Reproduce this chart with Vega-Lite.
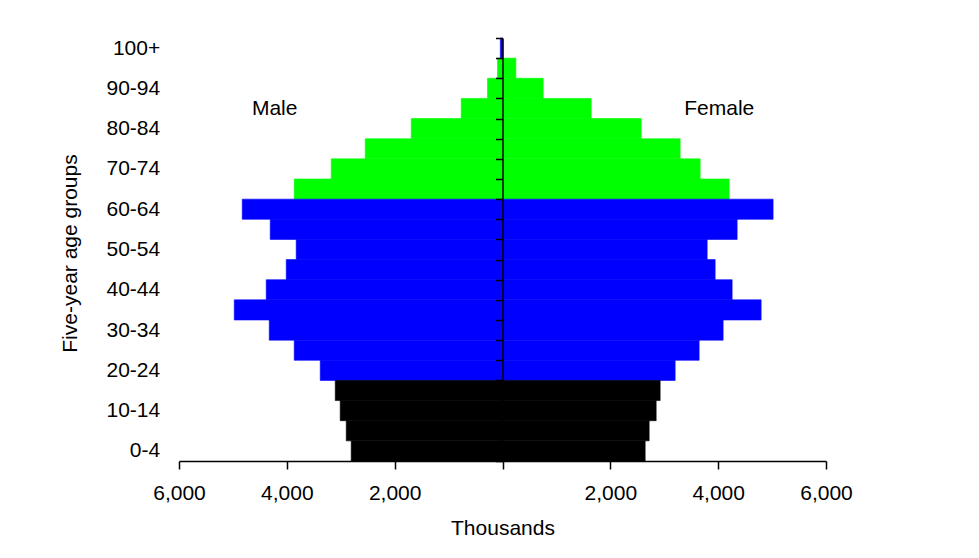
{
  "$schema": "https://vega.github.io/schema/vega-lite/v6.json",
  "width": 647,
  "height": 423,
  "autosize": {"type": "none"},
  "padding": {"left": 179, "top": 38, "right": 153, "bottom": 97},
  "background": "white",
  "config": {
    "view": {"stroke": null},
    "font": "Liberation Sans",
    "axis": {"grid": false, "labelFont": "Liberation Sans", "titleFont": "Liberation Sans", "labelColor": "black", "titleColor": "black", "labelFontSize": 21, "titleFontSize": 21, "titleFontWeight": "normal", "domainColor": "black", "tickColor": "black"}
  },
  "layer": [
    {
      "data": {"values": [
        {"age": "100+", "sex": "Male", "value": -40, "group": "g2"},
        {"age": "100+", "sex": "Female", "value": 5, "group": "g2"},
        {"age": "95-99", "sex": "Male", "value": -93, "group": "g3"},
        {"age": "95-99", "sex": "Female", "value": 248, "group": "g3"},
        {"age": "90-94", "sex": "Male", "value": -278, "group": "g3"},
        {"age": "90-94", "sex": "Female", "value": 755, "group": "g3"},
        {"age": "85-89", "sex": "Male", "value": -766, "group": "g3"},
        {"age": "85-89", "sex": "Female", "value": 1645, "group": "g3"},
        {"age": "80-84", "sex": "Male", "value": -1693, "group": "g3"},
        {"age": "80-84", "sex": "Female", "value": 2572, "group": "g3"},
        {"age": "75-79", "sex": "Male", "value": -2546, "group": "g3"},
        {"age": "75-79", "sex": "Female", "value": 3295, "group": "g3"},
        {"age": "70-74", "sex": "Male", "value": -3177, "group": "g3"},
        {"age": "70-74", "sex": "Female", "value": 3666, "group": "g3"},
        {"age": "65-69", "sex": "Male", "value": -3863, "group": "g3"},
        {"age": "65-69", "sex": "Female", "value": 4204, "group": "g3"},
        {"age": "60-64", "sex": "Male", "value": -4827, "group": "g2"},
        {"age": "60-64", "sex": "Female", "value": 5019, "group": "g2"},
        {"age": "55-59", "sex": "Male", "value": -4308, "group": "g2"},
        {"age": "55-59", "sex": "Female", "value": 4352, "group": "g2"},
        {"age": "50-54", "sex": "Male", "value": -3826, "group": "g2"},
        {"age": "50-54", "sex": "Female", "value": 3796, "group": "g2"},
        {"age": "45-49", "sex": "Male", "value": -4011, "group": "g2"},
        {"age": "45-49", "sex": "Female", "value": 3944, "group": "g2"},
        {"age": "40-44", "sex": "Male", "value": -4382, "group": "g2"},
        {"age": "40-44", "sex": "Female", "value": 4259, "group": "g2"},
        {"age": "35-39", "sex": "Male", "value": -4975, "group": "g2"},
        {"age": "35-39", "sex": "Female", "value": 4797, "group": "g2"},
        {"age": "30-34", "sex": "Male", "value": -4326, "group": "g2"},
        {"age": "30-34", "sex": "Female", "value": 4092, "group": "g2"},
        {"age": "25-29", "sex": "Male", "value": -3863, "group": "g2"},
        {"age": "25-29", "sex": "Female", "value": 3647, "group": "g2"},
        {"age": "20-24", "sex": "Male", "value": -3380, "group": "g2"},
        {"age": "20-24", "sex": "Female", "value": 3202, "group": "g2"},
        {"age": "15-19", "sex": "Male", "value": -3102, "group": "g1"},
        {"age": "15-19", "sex": "Female", "value": 2924, "group": "g1"},
        {"age": "10-14", "sex": "Male", "value": -3010, "group": "g1"},
        {"age": "10-14", "sex": "Female", "value": 2850, "group": "g1"},
        {"age": "5-9", "sex": "Male", "value": -2898, "group": "g1"},
        {"age": "5-9", "sex": "Female", "value": 2720, "group": "g1"},
        {"age": "0-4", "sex": "Male", "value": -2806, "group": "g1"},
        {"age": "0-4", "sex": "Female", "value": 2646, "group": "g1"}
      ]},
      "mark": {"type": "bar", "strokeWidth": 0.6},
      "encoding": {
        "y": {
          "field": "age", "type": "nominal",
          "scale": {"domain": ["100+","95-99","90-94","85-89","80-84","75-79","70-74","65-69","60-64","55-59","50-54","45-49","40-44","35-39","30-34","25-29","20-24","15-19","10-14","5-9","0-4"], "paddingInner": 0, "paddingOuter": 0},
          "axis": {
            "title": "Five-year age groups",
            "orient": "left",
            "offset": -323.5,
            "zindex": 1,
            "domain": true,
            "domainWidth": 1.5,
            "ticks": true,
            "tickSize": 7,
            "tickWidth": 1.5,
            "tickBand": "extent",
            "labelPadding": 335.8,
            "labelAngle": 0,
            "labelAlign": "right",
            "labelBaseline": "middle",
            "labelExpr": "indexof(['0-4','10-14','20-24','30-34','40-44','50-54','60-64','70-74','80-84','90-94','100+'], datum.label) >= 0 ? datum.label : ''",
            "titleX": -426,
            "titleY": 215,
            "titleAngle": -90,
            "titleAlign": "center",
            "titleBaseline": "alphabetic"
          }
        },
        "x": {
          "field": "value", "type": "quantitative",
          "scale": {"domain": [-6000, 6000], "nice": false, "zero": false},
          "axis": {
            "title": "Thousands",
            "values": [-6000, -4000, -2000, 0, 2000, 4000, 6000],
            "labelExpr": "datum.value == 0 ? '' : format(abs(datum.value), ',')",
            "zindex": 1,
            "tickSize": 8,
            "domainWidth": 1.5,
            "tickWidth": 1.5,
            "labelPadding": 13,
            "titlePadding": 14,
            "labelFlush": false
          }
        },
        "color": {
          "field": "group", "type": "nominal",
          "scale": {"domain": ["g1", "g2", "g3"], "range": ["#000000", "#0000ff", "#00ff00"]},
          "legend": null
        },
        "stroke": {
          "field": "group", "type": "nominal",
          "scale": {"domain": ["g1", "g2", "g3"], "range": ["#000000", "#0000ff", "#00ff00"]},
          "legend": null
        }
      }
    },
    {
      "data": {"values": [
        {"label": "Male", "pos": -4226, "age": "85-89"},
        {"label": "Female", "pos": 4020, "age": "85-89"}
      ]},
      "mark": {"type": "text", "font": "Liberation Sans", "fontSize": 21, "color": "black", "align": "center", "baseline": "middle"},
      "encoding": {
        "x": {"field": "pos", "type": "quantitative"},
        "y": {"field": "age", "type": "nominal"},
        "text": {"field": "label"}
      }
    }
  ]
}
